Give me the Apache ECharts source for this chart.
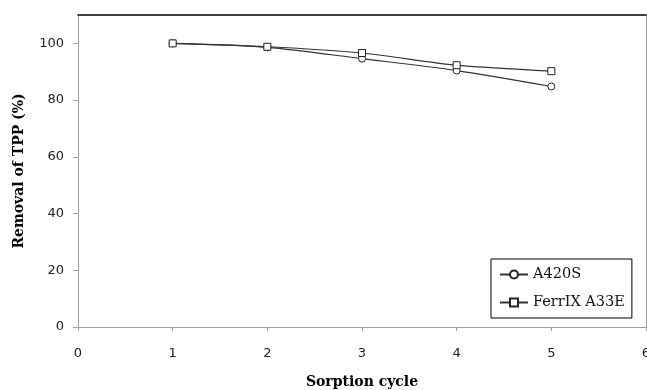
<!DOCTYPE html>
<html>
<head>
<meta charset="utf-8">
<script src="https://cdn.jsdelivr.net/npm/echarts@6/dist/echarts.min.js"></script>
<style>
html,body{margin:0;padding:0;background:#fff;}
#chart{width:647px;height:390px;}
</style>
</head>
<body>
<div id="chart"></div>
<script>
var cycles = [1, 2, 3, 4, 5];
var a420s = [100, 98.6, 94.6, 90.4, 84.8];
var ferrix = [100, 98.8, 96.6, 92.3, 90.2];
var yTicks = [0, 20, 40, 60, 80, 100];
var seriesNames = ['A420S', 'FerrIX A33E'];

function pairs(xs, ys) { return xs.map(function (x, i) { return [x, ys[i]]; }); }

var chart = echarts.init(document.getElementById('chart'), null, {renderer: 'canvas'});
var serif = '"DejaVu Serif", "Liberation Serif", serif';
var sans = '"DejaVu Sans", "Liberation Sans", sans-serif';
chart.setOption({
  animation: false,
  backgroundColor: '#fff',
  grid: {left: 78, right: 1, top: 15, bottom: 63, outerBoundsMode: 'none', containLabel: false},
  legend: {
    orient: 'vertical',
    left: 491, top: 259,
    padding: [8, 7, 8, 8],
    borderColor: '#000', borderWidth: 1,
    itemWidth: 28, itemHeight: 10, itemGap: 13,
    textStyle: {fontFamily: serif, fontSize: 14.5, color: '#111'},
    data: seriesNames
  },
  xAxis: [{
    type: 'value', min: 0, max: 6, interval: 1,
    name: 'Sorption cycle', nameLocation: 'middle', nameGap: 48,
    nameTextStyle: {fontFamily: serif, fontWeight: 'bold', fontSize: 14, color: '#000'},
    axisLine: {show: true, onZero: false, lineStyle: {color: '#a0a0a0', width: 1}},
    axisTick: {show: true, inside: false, length: 4, lineStyle: {color: '#a0a0a0'}},
    axisLabel: {margin: 20, fontFamily: sans, fontSize: 13, color: '#222'},
    splitLine: {show: false}
  }, {
    type: 'value', position: 'top', min: 0, max: 6,
    axisLine: {show: true, onZero: false, lineStyle: {color: '#000', width: 1.5}},
    axisTick: {show: false}, axisLabel: {show: false}, splitLine: {show: false}
  }],
  yAxis: [{
    type: 'value', min: 0, max: 110,
    name: 'Removal of TPP (%)', nameLocation: 'middle', nameGap: 52, nameRotate: 90,
    nameTextStyle: {fontFamily: serif, fontWeight: 'bold', fontSize: 14, color: '#000'},
    axisLine: {show: true, onZero: false, lineStyle: {color: '#a0a0a0', width: 1}},
    axisTick: {show: true, length: 5, lineStyle: {color: '#a0a0a0'}, customValues: yTicks},
    axisLabel: {margin: 14, fontFamily: sans, fontSize: 13, color: '#222', customValues: yTicks},
    splitLine: {show: false}
  }, {
    type: 'value', position: 'right', min: 0, max: 110,
    axisLine: {show: true, onZero: false, lineStyle: {color: '#a0a0a0', width: 1}},
    axisTick: {show: false}, axisLabel: {show: false}, splitLine: {show: false}
  }],
  series: [{
    name: seriesNames[0], type: 'line', smooth: 0.3,
    data: pairs(cycles, a420s),
    symbol: 'circle', symbolSize: 7,
    lineStyle: {color: '#333', width: 1.2},
    itemStyle: {color: '#fff', borderColor: '#222', borderWidth: 1}
  }, {
    name: seriesNames[1], type: 'line', smooth: 0.3,
    data: pairs(cycles, ferrix),
    symbol: 'rect', symbolSize: 7,
    lineStyle: {color: '#333', width: 1.2},
    itemStyle: {color: '#fff', borderColor: '#222', borderWidth: 1}
  }]
});
</script>
</body>
</html>
